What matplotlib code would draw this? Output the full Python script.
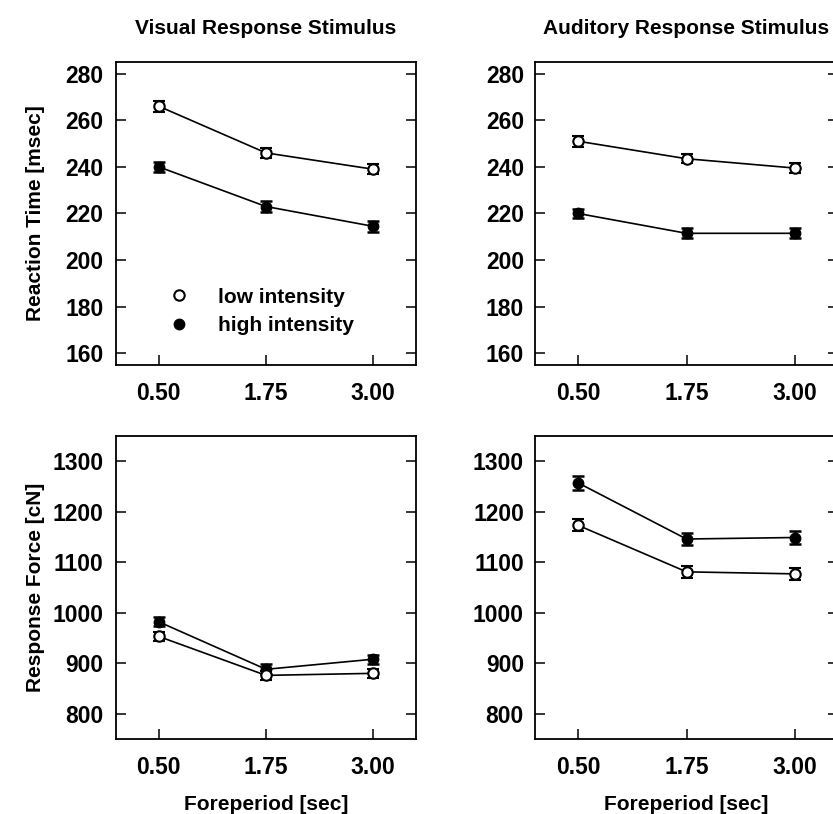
import matplotlib
matplotlib.use("Agg")
import matplotlib.pyplot as plt
from matplotlib.lines import Line2D

plt.rcParams["font.family"] = ["Liberation Sans", "DejaVu Sans"]
plt.rcParams["font.weight"] = "bold"
plt.rcParams["font.size"] = 15

# data
foreperiod = [0.50, 1.75, 3.00]
xtick_labels = ["0.50", "1.75", "3.00"]

# reaction time [msec]
rt_visual_low = [266, 246, 239]
rt_visual_high = [240, 223, 214.5]
rt_visual_low_err = [2.3, 2.2, 2.2]
rt_visual_high_err = [2.2, 2.2, 2.3]

rt_audit_low = [251, 243.5, 239.5]
rt_audit_high = [220, 211.5, 211.5]
rt_audit_low_err = [2.3, 2.0, 2.0]
rt_audit_high_err = [2.0, 2.2, 2.2]

# response force [cN]
rf_visual_low = [953, 876, 880]
rf_visual_high = [982, 888, 908]
rf_visual_low_err = [9, 9, 9]
rf_visual_high_err = [9, 10, 9]

rf_audit_low = [1173, 1081, 1077]
rf_audit_high = [1257, 1146, 1149]
rf_audit_low_err = [12, 12, 12]
rf_audit_high_err = [13, 12, 12]

fig = plt.figure(figsize=(8.33, 8.14), dpi=100)
W, H = 833.0, 814.0


def add_ax(left, right, top, bottom):
    return fig.add_axes([left / W, 1 - bottom / H, (right - left) / W, (bottom - top) / H])


ax_tl = add_ax(116, 416, 62, 365)
ax_tr = add_ax(535, 838, 62, 365)
ax_bl = add_ax(116, 416, 436, 739)
ax_br = add_ax(535, 838, 436, 739)

mark_size = 7.5
line_width = 1.2
tick_size = 16.5


def draw(ax, low, low_err, high, high_err):
    ax.errorbar(foreperiod, high, yerr=high_err, color="black", marker="o",
                markersize=mark_size, markerfacecolor="black", markeredgecolor="black",
                linewidth=line_width, elinewidth=1.8, capsize=4.5, capthick=1.8)
    ax.errorbar(foreperiod, low, yerr=low_err, color="black", marker="o",
                markersize=mark_size, markerfacecolor="white", markeredgecolor="black",
                markeredgewidth=1.5, linewidth=line_width, elinewidth=1.8, capsize=4.5,
                capthick=1.8)
    ax.set_xlim(0, 3.5)
    ax.set_xticks(foreperiod)
    ax.set_xticklabels(xtick_labels)
    ax.tick_params(axis="both", direction="in", length=7, width=1.1, labelsize=tick_size)
    ax.tick_params(axis="y", right=True, pad=9)
    ax.tick_params(axis="x", pad=12)
    for sp in ax.spines.values():
        sp.set_linewidth(1.3)


draw(ax_tl, rt_visual_low, rt_visual_low_err, rt_visual_high, rt_visual_high_err)
draw(ax_tr, rt_audit_low, rt_audit_low_err, rt_audit_high, rt_audit_high_err)
draw(ax_bl, rf_visual_low, rf_visual_low_err, rf_visual_high, rf_visual_high_err)
draw(ax_br, rf_audit_low, rf_audit_low_err, rf_audit_high, rf_audit_high_err)

for ax in (ax_tl, ax_tr):
    ax.set_ylim(155, 285)
    ax.set_yticks([160, 180, 200, 220, 240, 260, 280])
for ax in (ax_bl, ax_br):
    ax.set_ylim(750, 1350)
    ax.set_yticks([800, 900, 1000, 1100, 1200, 1300])
ax_tr.tick_params(axis="y", pad=8)
ax_br.tick_params(axis="y", pad=8)

ax_tl.set_title("Visual Response Stimulus", fontsize=15, fontweight="bold", pad=20)
ax_tr.set_title("Auditory Response Stimulus", fontsize=15, fontweight="bold", pad=20)

ax_tl.set_ylabel("Reaction Time [msec]", fontsize=15, fontweight="bold")
ax_bl.set_ylabel("Response Force [cN]", fontsize=15, fontweight="bold")
ax_tl.yaxis.set_label_coords(-0.235, 0.5)
ax_bl.yaxis.set_label_coords(-0.235, 0.5)
ax_bl.set_xlabel("Foreperiod [sec]", fontsize=15, fontweight="bold", labelpad=12)
ax_br.set_xlabel("Foreperiod [sec]", fontsize=15, fontweight="bold", labelpad=12)

handles = [
    Line2D([], [], linestyle="none", marker="o", markersize=mark_size,
           markerfacecolor="white", markeredgecolor="black", markeredgewidth=1.5),
    Line2D([], [], linestyle="none", marker="o", markersize=mark_size,
           markerfacecolor="black", markeredgecolor="black"),
]
ax_tl.legend(handles, ["low intensity", "high intensity"], loc="upper left",
             bbox_to_anchor=(0.175, 0.255), frameon=False, borderpad=0, borderaxespad=0,
             handlelength=1.0, handletextpad=1.4, labelspacing=0.45,
             prop={"weight": "bold", "size": 15})

fig.savefig("out.png", dpi=100)
